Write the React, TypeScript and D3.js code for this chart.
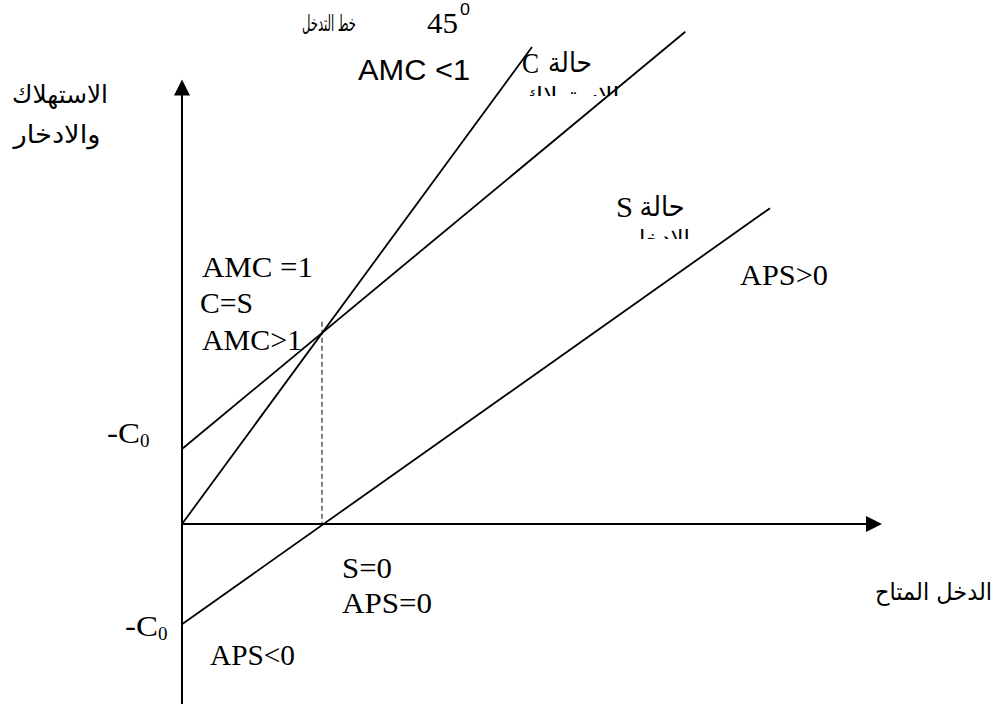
import React from "react";
import * as d3 from "d3";

// Income (x) and consumption / saving (y) in model units
const originPoint: [number, number] = [0, 0];
const line45End: [number, number] = [5.0, 5.0];
const consumptionStart: [number, number] = [0, 0.786];
const consumptionEnd: [number, number] = [7.19, 5.16];
const savingStart: [number, number] = [0, -1.05];
const savingEnd: [number, number] = [8.4, 3.31];
const breakEvenIncome = 2.0;
const breakEvenTop = 2.12;
const xAxisEnd = 10.0;
const yAxisTop = 4.66;
const yAxisBottom = -1.9;

const W = 1001;
const H = 704;

const x = d3.scaleLinear().domain([0, 10]).range([182, 882]);
const y = d3.scaleLinear().domain([0, 5]).range([524, 47]);

const serif = "'Liberation Serif', 'Times New Roman', 'DejaVu Serif', serif";
const sans = "'Liberation Sans', Arial, 'DejaVu Sans', sans-serif";
const arabic = "'DejaVu Sans', 'Noto Sans', sans-serif";

type Label = {
  text: string;
  x: number;
  y: number;
  w: number;
  size: number;
  font: string;
  anchor?: "start" | "middle" | "end";
};

const labels: Label[] = [
  { text: "خط التدخل", x: 329, y: 31, w: 54, size: 22, font: arabic, anchor: "middle" },
  { text: "45", x: 427, y: 33, w: 31, size: 30, font: serif },
  { text: "0", x: 460, y: 15, w: 10, size: 16, font: sans },
  { text: "AMC <1", x: 358, y: 80, w: 112, size: 30, font: sans },
  { text: "C", x: 522, y: 73, w: 17, size: 29, font: serif },
  { text: "حالة", x: 570, y: 72, w: 44, size: 28, font: arabic, anchor: "middle" },
  { text: "S", x: 616, y: 217, w: 17, size: 29, font: serif },
  { text: "حالة", x: 662, y: 216, w: 45, size: 28, font: arabic, anchor: "middle" },
  { text: "APS>0", x: 740, y: 285, w: 88, size: 30, font: serif },
  { text: "AMC =1", x: 202, y: 277, w: 111, size: 30, font: serif },
  { text: "C=S", x: 200, y: 313, w: 53, size: 30, font: serif },
  { text: "AMC>1", x: 202, y: 350, w: 100, size: 30, font: serif },
  { text: "S=0", x: 342, y: 578, w: 50, size: 30, font: serif },
  { text: "APS=0", x: 342, y: 613, w: 90, size: 30, font: serif },
  { text: "APS<0", x: 210, y: 665, w: 85, size: 30, font: serif },
  { text: "الدخل المتاح", x: 992, y: 600, w: 117, size: 24, font: arabic, anchor: "end" },
  { text: "الاستهلاك", x: 60, y: 103, w: 96, size: 25, font: arabic, anchor: "middle" },
  { text: "والادخار", x: 57, y: 143, w: 87, size: 25, font: arabic, anchor: "middle" },
];

// Intercept labels (-C with subscript 0)
const interceptLabels = [
  { x: 107, y: 443 },
  { x: 125, y: 636 },
];

// Second-line captions cut off by the frame above them
const clippedCaptions = [
  { text: "الاستهلاك", cx: 571, y: 104, w: 97, clipTop: 84, clipBottom: 96 },
  { text: "الادخار", cx: 659, y: 247, w: 62, clipTop: 227, clipBottom: 239 },
];

export default function App() {
  const line = d3
    .line<[number, number]>()
    .x((d) => x(d[0]))
    .y((d) => y(d[1]));

  const ox = x(originPoint[0]);
  const oy = y(originPoint[1]);
  const xTip = x(xAxisEnd);
  const yTip = y(yAxisTop);

  return (
    <svg
      width={W}
      height={H}
      style={{ position: "absolute", left: 0, top: 0, background: "#fff" }}
    >
      <defs>
        {clippedCaptions.map((c, i) => (
          <clipPath id={`cap-clip-${i}`} key={i}>
            <rect x={c.cx - c.w} y={c.clipTop} width={c.w * 2} height={c.clipBottom - c.clipTop} />
          </clipPath>
        ))}
      </defs>
      <rect width={W} height={H} fill="#fff" />

      {/* axes */}
      <line x1={ox} y1={y(yAxisBottom)} x2={ox} y2={yTip + 14} stroke="#000" strokeWidth={2} />
      <path d={`M${ox},${yTip} L${ox - 8},${yTip + 16} L${ox + 8},${yTip + 16} Z`} fill="#000" />
      <line x1={ox} y1={oy} x2={xTip - 14} y2={oy} stroke="#000" strokeWidth={2} />
      <path d={`M${xTip},${oy} L${xTip - 16},${oy - 8} L${xTip - 16},${oy + 8} Z`} fill="#000" />

      {/* 45 degree line, consumption and saving */}
      <path d={line([originPoint, line45End]) || ""} stroke="#000" strokeWidth={1.8} fill="none" />
      <path d={line([consumptionStart, consumptionEnd]) || ""} stroke="#000" strokeWidth={1.8} fill="none" />
      <path d={line([savingStart, savingEnd]) || ""} stroke="#000" strokeWidth={1.8} fill="none" />

      {/* break-even income */}
      <line
        x1={x(breakEvenIncome)}
        y1={y(breakEvenTop)}
        x2={x(breakEvenIncome)}
        y2={oy}
        stroke="#000"
        strokeWidth={1}
        strokeDasharray="5,3"
      />

      {labels.map((l, i) => (
        <text
          key={i}
          x={l.x}
          y={l.y}
          fontFamily={l.font}
          fontSize={l.size}
          textAnchor={l.anchor || "start"}
          textLength={l.w}
          lengthAdjust="spacingAndGlyphs"
          fill="#000"
        >
          {l.text}
        </text>
      ))}

      {interceptLabels.map((p, i) => (
        <g key={i} fontFamily={serif} fill="#000">
          <text x={p.x} y={p.y} fontSize={29} textLength={33} lengthAdjust="spacingAndGlyphs">
            -C
          </text>
          <text x={p.x + 33} y={p.y + 4} fontSize={19}>
            0
          </text>
        </g>
      ))}

      {clippedCaptions.map((c, i) => (
        <g key={i} clipPath={`url(#cap-clip-${i})`}>
          <text
            x={c.cx}
            y={c.y}
            fontFamily={arabic}
            fontSize={24}
            textAnchor="middle"
            textLength={c.w}
            lengthAdjust="spacingAndGlyphs"
            fill="#000"
          >
            {c.text}
          </text>
        </g>
      ))}
    </svg>
  );
}
